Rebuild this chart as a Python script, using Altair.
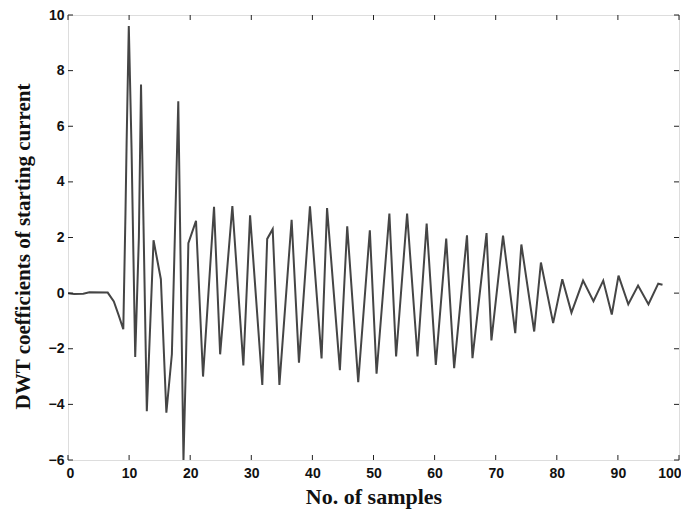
import altair as alt
import pandas as pd

# Sample positions and DWT coefficient values
sample_x = [0, 1, 2.5, 3.5, 6.5, 7.5, 8.3, 9.05, 9.4, 9.6, 9.95, 10.4, 11.0, 11.6, 11.95,
            12.9, 14.0, 14.6, 15.2, 16.1, 17.0, 18.05, 18.9, 19.3, 19.7, 20.95, 22.1, 23.9,
            24.9, 26.9, 28.7, 29.8, 31.8, 32.6, 33.5, 34.6, 36.6, 37.8, 39.6, 41.5, 42.4,
            44.5, 45.7, 47.5, 49.4, 50.5, 52.6, 53.7, 55.5, 57.2, 58.7, 60.2, 61.9, 63.2,
            65.3, 66.2, 68.5, 69.3, 71.2, 73.2, 74.2, 76.3, 77.4, 79.4, 80.9, 82.4, 84.3,
            86.0, 87.6, 89.0, 90.1, 91.7, 93.3, 95.0, 96.6, 97.3]
coef_y = [0.0, -0.03, -0.02, 0.03, 0.02, -0.3, -0.8, -1.3, 2.8, 5.5, 9.6, 5.2, -2.3, 2.0, 7.5,
          -4.25, 1.9, 1.2, 0.5, -4.3, -2.2, 6.9, -6.0, -2.5, 1.8, 2.6, -3.0, 3.1,
          -2.2, 3.13, -2.6, 2.8, -3.3, 1.95, 2.3, -3.3, 2.64, -2.5, 3.12, -2.35, 3.06,
          -2.77, 2.4, -3.2, 2.26, -2.9, 2.86, -2.28, 2.86, -2.28, 2.5, -2.58, 1.96, -2.7,
          2.08, -2.34, 2.16, -1.7, 2.07, -1.44, 1.75, -1.38, 1.1, -1.08, 0.5, -0.7, 0.45,
          -0.29, 0.45, -0.77, 0.63, -0.4, 0.27, -0.4, 0.34, 0.3]

x_ticks = [0, 10, 20, 30, 40, 50, 60, 70, 80, 90, 100]
y_ticks = [-6, -4, -2, 0, 2, 4, 6, 8, 10]

W, H = 611, 445
TL = 5

df = pd.DataFrame({"x": sample_x, "y": coef_y})
dfx = pd.DataFrame({"x": x_ticks})
dfy = pd.DataFrame({"y": y_ticks})

xs = alt.Scale(domain=[0, 100], nice=False, zero=False)
ys = alt.Scale(domain=[-6, 10], nice=False, zero=False)

label_font = "Liberation Sans"
title_font = "Liberation Serif"

x_axis = alt.Axis(title="No. of samples", values=x_ticks, ticks=False, domain=False,
                  grid=False, labelFlush=True, labelFlushOffset=2,
                  labelFont=label_font, labelFontWeight="bold",
                  labelFontSize=14, labelColor="#111", labelPadding=6,
                  titleFont=title_font, titleFontWeight="bold", titleFontSize=22,
                  titleColor="#111", titlePadding=6)
y_axis = alt.Axis(title="DWT coefficients of starting current", values=y_ticks,
                  ticks=False, domain=False, grid=False, labelFlush=False,
                  labelFont=label_font, labelFontWeight="bold", labelFontSize=14,
                  labelColor="#111", labelPadding=4, titleFont=title_font,
                  titleFontWeight="bold", titleFontSize=21, titleColor="#111",
                  titlePadding=15, titleY=231)

line = alt.Chart(df).mark_line(color="#454545", strokeWidth=2, clip=True).encode(
    x=alt.X("x:Q", scale=xs, axis=x_axis),
    y=alt.Y("y:Q", scale=ys, axis=y_axis),
)

tick_color = "#222"
bx = alt.Chart(dfx).mark_rule(color=tick_color, strokeWidth=1).encode(
    x=alt.X("x:Q", scale=xs, axis=x_axis), y=alt.value(H), y2=alt.value(H - TL))
tx = alt.Chart(dfx).mark_rule(color=tick_color, strokeWidth=1).encode(
    x=alt.X("x:Q", scale=xs, axis=x_axis), y=alt.value(0), y2=alt.value(TL))
ly = alt.Chart(dfy).mark_rule(color=tick_color, strokeWidth=1).encode(
    y=alt.Y("y:Q", scale=ys, axis=y_axis), x=alt.value(0), x2=alt.value(TL))
ry = alt.Chart(dfy).mark_rule(color=tick_color, strokeWidth=1).encode(
    y=alt.Y("y:Q", scale=ys, axis=y_axis), x=alt.value(W), x2=alt.value(W - TL))

chart = alt.layer(line, bx, tx, ly, ry).properties(
    width=W, height=H,
    autosize=alt.AutoSizeParams(type="none"),
    padding={"left": 60, "top": 7, "right": 2, "bottom": 52},
).configure_view(stroke="#222", strokeWidth=1.3).configure(background="white")

chart.save("out.html", embed_options={"renderer": "svg", "actions": False})
